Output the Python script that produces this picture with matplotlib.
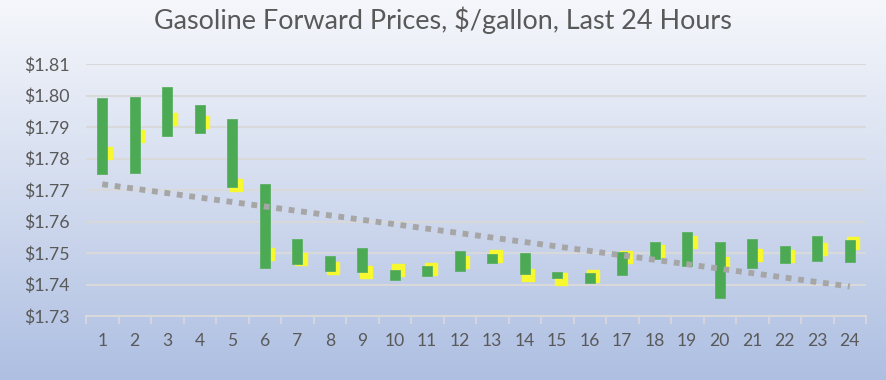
import numpy as np
import matplotlib
matplotlib.use("Agg")
import matplotlib.pyplot as plt
from matplotlib.colors import LinearSegmentedColormap

hours = list(range(1, 25))
high = [1.7991, 1.7994, 1.8028, 1.7970, 1.7924, 1.7718, 1.7543, 1.7491, 1.7515, 1.7446,
        1.7459, 1.7507, 1.7497, 1.7501, 1.7441, 1.7436, 1.7503, 1.7536, 1.7566, 1.7534,
        1.7544, 1.7521, 1.7555, 1.7541]
low = [1.7751, 1.7753, 1.7871, 1.7882, 1.7711, 1.7451, 1.7464, 1.7444, 1.7441, 1.7414,
       1.7427, 1.7443, 1.7469, 1.7434, 1.7420, 1.7404, 1.7430, 1.7481, 1.7460, 1.7356,
       1.7451, 1.7467, 1.7475, 1.7470]
close = [1.7822, 1.7875, 1.7929, 1.7918, 1.7718, 1.7500, 1.7483, 1.7455, 1.7442, 1.7448,
         1.7453, 1.7474, 1.7494, 1.7433, 1.7422, 1.7430, 1.7489, 1.7509, 1.7537, 1.7471,
         1.7497, 1.7495, 1.7516, 1.7534]
yticks = [1.73, 1.74, 1.75, 1.76, 1.77, 1.78, 1.79, 1.80, 1.81]
title = "Gasoline Forward Prices, $/gallon, Last 24 Hours"

W, H = 886, 380
fig = plt.figure(figsize=(W / 100, H / 100), dpi=100)

# gradient background
bg = fig.add_axes([0, 0, 1, 1], zorder=0)
cmap = LinearSegmentedColormap.from_list("bg", ["#f5f7fb", "#d3dcef", "#aebfe2"])
grad = np.linspace(0, 1, 256).reshape(-1, 1)
bg.imshow(grad, aspect="auto", cmap=cmap, extent=[0, 1, 0, 1], origin="upper")
bg.axis("off")

left, right = 86, 866
top_px, bot_px = 64, 316
ax = fig.add_axes([left / W, 1 - bot_px / H, (right - left) / W, (bot_px - top_px) / H], zorder=1)
ax.patch.set_alpha(0)

x = np.array(hours)
high_a, low_a, close_a = np.array(high), np.array(low), np.array(close)

ax.plot(x + 0.1, close_a - 0.0003, linestyle="none", marker="s", markersize=8.5,
        markerfacecolor="#f8f830", markeredgecolor="#f8f830", zorder=3)
ax.bar(x, high_a - low_a, bottom=low_a, width=0.32, color="#4caa55",
       edgecolor="#5cb065", linewidth=0.6, zorder=4)

# linear trendline of closes
coef = np.polyfit(x, close_a, 1)
xt = np.array([1, 24])
ax.plot(xt, np.polyval(coef, xt), color="#a6a6a6", linewidth=4.2,
        linestyle=(0, (1.0, 1.15)), dash_capstyle="butt", zorder=5)

ax.set_xlim(0.5, 24.5)
ax.set_ylim(1.73, 1.81)
ax.set_yticks(yticks)
ax.set_yticklabels([f"${v:.2f}" for v in yticks])
ax.set_xticks(hours)
ax.set_xticklabels([str(h) for h in hours])
ax.set_xticks(np.arange(0.5, 25, 1), minor=True)

for s in ["top", "right", "left"]:
    ax.spines[s].set_visible(False)
ax.spines["bottom"].set_color("#d9d9d9")
ax.spines["bottom"].set_linewidth(1.5)
ax.grid(axis="y", color="#d9d9d9", linewidth=1.5, zorder=0)
ax.set_axisbelow(True)

font = "Lato"
ax.tick_params(axis="y", length=0, pad=12, labelsize=12.8, labelcolor="#595959")
ax.tick_params(axis="x", which="major", length=0, pad=12, labelsize=12.6, labelcolor="#595959")
ax.tick_params(axis="x", which="minor", length=6, width=1.2, color="#d9d9d9")
for lab in ax.get_xticklabels() + ax.get_yticklabels():
    lab.set_family(font)

t = fig.text(443 / W, 1 - 29 / H, title, ha="center", va="baseline", fontsize=17,
             color="#595959", family=font)
# fit title width to the reference (~579 px)
r = fig.canvas.get_renderer()
w = t.get_window_extent(renderer=r).width
t.set_fontsize(17 * 579 / w)

fig.savefig("out.png", dpi=100)
